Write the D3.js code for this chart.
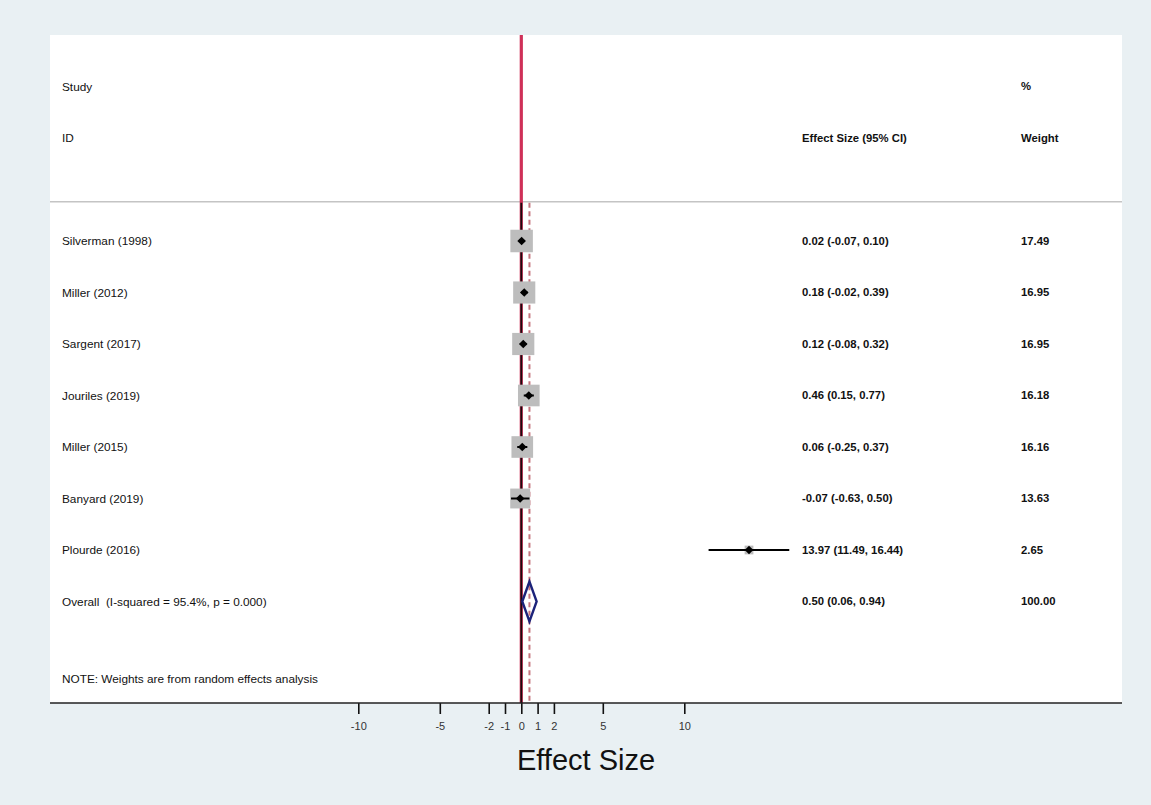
<!DOCTYPE html>
<html>
<head>
<meta charset="utf-8">
<script src="https://cdn.jsdelivr.net/npm/d3@7"></script>
<style>
body { margin: 0; background: #e9f0f3; }
text { font-family: 'Liberation Sans', Arial, Helvetica, sans-serif; fill: #111; }
.col-left { font-size: 11.8px; }
.col-right { font-size: 11.3px; font-weight: bold; }
.tick-label { font-size: 11px; fill: #333; }
</style>
</head>
<body>
<div class="svg-container"></div>
<script>
var studies = ['Silverman (1998)', 'Miller (2012)', 'Sargent (2017)', 'Jouriles (2019)', 'Miller (2015)', 'Banyard (2019)', 'Plourde (2016)'];
var effects = [0.02, 0.18, 0.12, 0.46, 0.06, -0.07, 13.97];
var lower = [-0.07, -0.02, -0.08, 0.15, -0.25, -0.63, 11.49];
var upper = [0.10, 0.39, 0.32, 0.77, 0.37, 0.50, 16.44];
var weights = [17.49, 16.95, 16.95, 16.18, 16.16, 13.63, 2.65];

var overallLabel = 'Overall  (I-squared = 95.4%, p = 0.000)';
var overallEffect = 0.50;
var overallLower = 0.06;
var overallUpper = 0.94;
var overallWeight = 100.00;

var xTicks = [-10, -5, -2, -1, 0, 1, 2, 5, 10];
var noteText = 'NOTE: Weights are from random effects analysis';

var width = 1151,
	height = 805,
	panel = { left: 50, right: 1122, top: 35, bottom: 703 },
	colStudy = 62,
	colEffect = 802,
	colWeight = 1021;

// plain hyphen for negatives, as in the original output
var fmt = function(v) {
	return d3.format('.2f')(v).replace('\u2212', '-');
};

// x: effect size, y: row index (headers are negative rows)
var xScale = d3.scaleLinear()
	.domain([-10, 10])
	.range([358.3, 684.3]);

var yScale = d3.scaleLinear()
	.domain([0, 7])
	.range([241, 601.5]);

var svg = d3.select('.svg-container')
	.append('svg')
	.attr('width', width)
	.attr('height', height);

svg.append('rect')
	.attr('x', 0)
	.attr('y', 0)
	.attr('width', width)
	.attr('height', height)
	.attr('fill', '#e9f0f3');

svg.append('rect')
	.attr('x', panel.left)
	.attr('y', panel.top)
	.attr('width', panel.right - panel.left)
	.attr('height', panel.bottom - panel.top)
	.attr('fill', '#fff');

var sepY = yScale(-0.76);

svg.append('line')
	.attr('x1', panel.left)
	.attr('x2', panel.right)
	.attr('y1', sepY)
	.attr('y2', sepY)
	.attr('stroke', '#c4c4c4')
	.attr('stroke-width', 1.5);

// headers
svg.append('text').attr('class', 'col-left').attr('x', colStudy).attr('y', yScale(-3)).attr('dy', '0.35em').text('Study');
svg.append('text').attr('class', 'col-left').attr('x', colStudy).attr('y', yScale(-2)).attr('dy', '0.35em').text('ID');
svg.append('text').attr('class', 'col-right').attr('x', colEffect).attr('y', yScale(-2)).attr('dy', '0.35em').text('Effect Size (95% CI)');
svg.append('text').attr('class', 'col-right').attr('x', colWeight).attr('y', yScale(-3)).attr('dy', '0.35em').text('%');
svg.append('text').attr('class', 'col-right').attr('x', colWeight).attr('y', yScale(-2)).attr('dy', '0.35em').text('Weight');

// reference lines
svg.append('line')
	.attr('x1', xScale(0))
	.attr('x2', xScale(0))
	.attr('y1', panel.top)
	.attr('y2', panel.bottom)
	.attr('stroke', '#cf3058')
	.attr('stroke-width', 3.2);

svg.append('line')
	.attr('x1', xScale(0))
	.attr('x2', xScale(0))
	.attr('y1', sepY + 1)
	.attr('y2', panel.bottom)
	.attr('stroke', '#1a0a0e')
	.attr('stroke-width', 1.8);

svg.append('line')
	.attr('x1', xScale(overallEffect))
	.attr('x2', xScale(overallEffect))
	.attr('y1', sepY + 1)
	.attr('y2', panel.bottom)
	.attr('stroke', '#c6767f')
	.attr('stroke-width', 2)
	.attr('stroke-dasharray', '5,3.5');

// study rows
var rows = studies.map(function(s, i) {
	return { study: s, es: effects[i], lo: lower[i], hi: upper[i], w: weights[i], i: i };
});

var boxK = 22.5 / Math.sqrt(d3.max(weights));

var g = svg.selectAll('g.row')
	.data(rows)
	.enter()
	.append('g')
	.attr('class', 'row');

g.append('rect')
	.attr('x', function(d) { return xScale(d.es) - boxK * Math.sqrt(d.w) / 2; })
	.attr('y', function(d) { return yScale(d.i) - boxK * Math.sqrt(d.w) / 2; })
	.attr('width', function(d) { return boxK * Math.sqrt(d.w); })
	.attr('height', function(d) { return boxK * Math.sqrt(d.w); })
	.attr('fill', '#bdbdbd');

g.append('line')
	.attr('x1', function(d) { return xScale(d.lo); })
	.attr('x2', function(d) { return xScale(d.hi); })
	.attr('y1', function(d) { return yScale(d.i); })
	.attr('y2', function(d) { return yScale(d.i); })
	.attr('stroke', '#000')
	.attr('stroke-width', 2);

g.append('path')
	.attr('d', function(d) {
		var cx = xScale(d.es), cy = yScale(d.i), r = 4.3;
		return 'M' + (cx - r) + ',' + cy + 'L' + cx + ',' + (cy - r) + 'L' + (cx + r) + ',' + cy + 'L' + cx + ',' + (cy + r) + 'Z';
	})
	.attr('fill', '#000');

g.append('text')
	.attr('class', 'col-left')
	.attr('x', colStudy)
	.attr('y', function(d) { return yScale(d.i); })
	.attr('dy', '0.35em')
	.text(function(d) { return d.study; });

g.append('text')
	.attr('class', 'col-right')
	.attr('x', colEffect)
	.attr('y', function(d) { return yScale(d.i); })
	.attr('dy', '0.35em')
	.text(function(d) { return fmt(d.es) + ' (' + fmt(d.lo) + ', ' + fmt(d.hi) + ')'; });

g.append('text')
	.attr('class', 'col-right')
	.attr('x', colWeight)
	.attr('y', function(d) { return yScale(d.i); })
	.attr('dy', '0.35em')
	.text(function(d) { return fmt(d.w); });

// overall
var oy = yScale(7);
svg.append('path')
	.attr('d', 'M' + xScale(overallLower) + ',' + oy +
		'L' + xScale(overallEffect) + ',' + (oy - 20) +
		'L' + xScale(overallUpper) + ',' + oy +
		'L' + xScale(overallEffect) + ',' + (oy + 20) + 'Z')
	.attr('fill', 'none')
	.attr('stroke', '#1c237a')
	.attr('stroke-width', 2.4);

svg.append('text').attr('class', 'col-left').attr('x', colStudy).attr('y', oy).attr('dy', '0.35em')
	.attr('xml:space', 'preserve').style('white-space', 'pre').text(overallLabel);
svg.append('text').attr('class', 'col-right').attr('x', colEffect).attr('y', oy).attr('dy', '0.35em')
	.text(fmt(overallEffect) + ' (' + fmt(overallLower) + ', ' + fmt(overallUpper) + ')');
svg.append('text').attr('class', 'col-right').attr('x', colWeight).attr('y', oy).attr('dy', '0.35em')
	.text(fmt(overallWeight));

svg.append('text').attr('class', 'col-left').attr('x', colStudy).attr('y', yScale(8.5)).attr('dy', '0.35em').text(noteText);

// axis
var xAxis = d3.axisBottom()
	.scale(xScale)
	.tickValues(xTicks)
	.tickSize(11)
	.tickPadding(8)
	.tickFormat(function(d) { return String(d); });

var axisG = svg.append('g')
	.attr('transform', 'translate(0, ' + panel.bottom + ')')
	.call(xAxis);

axisG.select('.domain').remove();
axisG.selectAll('.tick line').attr('stroke', '#111').attr('stroke-width', 1.6);
axisG.selectAll('.tick text').attr('class', 'tick-label').attr('font-family', null).attr('font-size', null);

svg.append('line')
	.attr('x1', panel.left)
	.attr('x2', panel.right)
	.attr('y1', panel.bottom)
	.attr('y2', panel.bottom)
	.attr('stroke', '#222')
	.attr('stroke-width', 1.6);

svg.append('text')
	.attr('x', 586)
	.attr('y', 760)
	.attr('dy', '0.35em')
	.attr('text-anchor', 'middle')
	.style('font-size', '29px')
	.text('Effect Size');
</script>
</body>
</html>
